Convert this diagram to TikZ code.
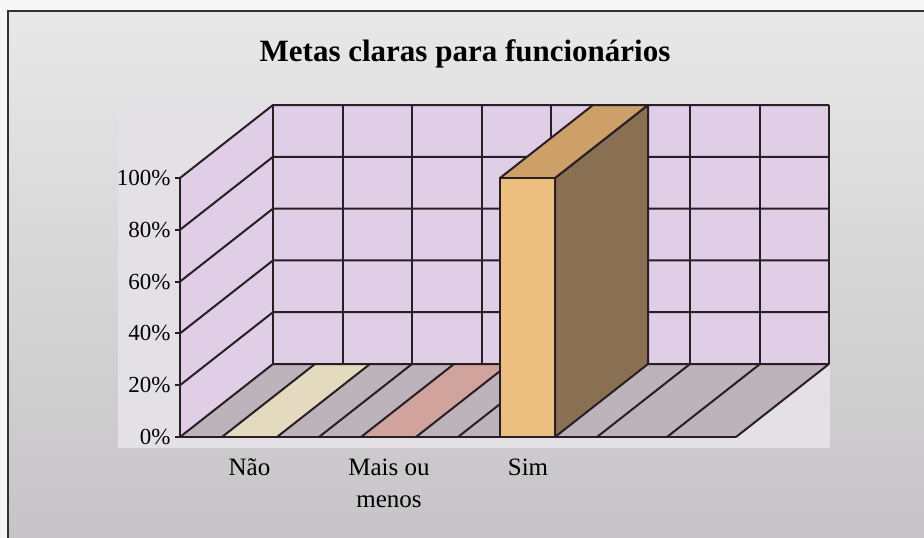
\documentclass[tikz,border=0pt]{standalone}
\usepackage{fontspec}
\setmainfont{Liberation Serif}
\definecolor{wallc}{RGB}{224,206,230}
\definecolor{floorc}{RGB}{188,180,186}
\definecolor{naoc}{RGB}{228,218,192}
\definecolor{maisc}{RGB}{208,164,156}
\definecolor{simfront}{RGB}{236,190,128}
\definecolor{simtop}{RGB}{204,160,104}
\definecolor{simside}{RGB}{138,112,82}
\definecolor{plotc}{RGB}{228,225,230}
\definecolor{gridc}{RGB}{40,30,35}
\definecolor{paperc}{RGB}{232,232,232}
\definecolor{paperd}{RGB}{198,196,198}

\begin{document}
\begin{tikzpicture}[x=1pt,y=-1pt,
    grid/.style={draw=gridc,line width=2pt,line join=round},
    pct/.style={anchor=east,font=\fontsize{23}{25}\selectfont},
    cat/.style={anchor=base,align=center,font=\fontsize{25}{32}\selectfont}]
  \useasboundingbox (0,0) rectangle (924,538);
  \fill[white!94!gray] (0,0) rectangle (924,538);
  \shade[top color=paperc,bottom color=paperd] (8,11) rectangle (924,538);
  \draw[gray!40!black,line width=1.5pt] (924,11) -- (8,11) -- (8,538);
  % plot area
  \fill[plotc] (118,103) rectangle (830,448);
  \path (180,437) coordinate (O);
  \path (736,437) coordinate (F);
  \path (273,364) coordinate (B);
  \path (829,364) coordinate (E);
  \path (829,105) coordinate (T);
  \path (273,105) coordinate (A);
  \path (180,178) coordinate (L);
  % walls and floor
  \fill[wallc] (A) rectangle (E);
  \fill[wallc] (O) -- (B) -- (A) -- (L) -- cycle;
  \fill[floorc] (O) -- (F) -- (E) -- (B) -- cycle;
  \fill[naoc] (222,437) -- (277,437) -- ++(93,-73) -- (315,364) -- cycle;
  \fill[maisc] (361,437) -- (416,437) -- ++(93,-73) -- (454,364) -- cycle;
  % grid
  \foreach \k in {0,...,5}
    \draw[grid] (180,{437-51.8*\k}) -- (273,{364-51.8*\k}) -- (829,{364-51.8*\k});
  \foreach \j in {0,...,8}
    \draw[grid] ({273+69.5*\j},105) -- ({273+69.5*\j},364);
  \foreach \x in {222,277,319,361,416,458,597,667,736}
    \draw[grid] (\x,437) -- ++(93,-73);
  \draw[grid] (L) -- (O) -- (F);
  \foreach \k/\t in {0/0,1/20,2/40,3/60,4/80,5/100} {
    \draw[grid] (175,{437-51.8*\k}) -- (180,{437-51.8*\k});
    \node[pct] (tick\k) at (174,{437-51.8*\k}) {\t\%};
  }
  % the Sim bar
  \filldraw[grid,fill=simside] (555,437) -- ++(93,-73) -- (648,105) -- (555,178) -- cycle;
  \filldraw[grid,fill=simtop] (500,178) -- (555,178) -- (648,105) -- (593,105) -- cycle;
  \filldraw[grid,fill=simfront] (500,437) rectangle (555,178);
  % labels
  \node[font=\fontsize{31}{34}\selectfont\bfseries,anchor=base] (title) at (465,61) {Metas claras para funcionários};
  \node[cat] (nao) at (249.5,475) {Não};
  \node[cat] (mais) at (389,507) {Mais ou\\menos};
  \node[cat] (sim) at (528,475) {Sim};
\end{tikzpicture}
\end{document}
